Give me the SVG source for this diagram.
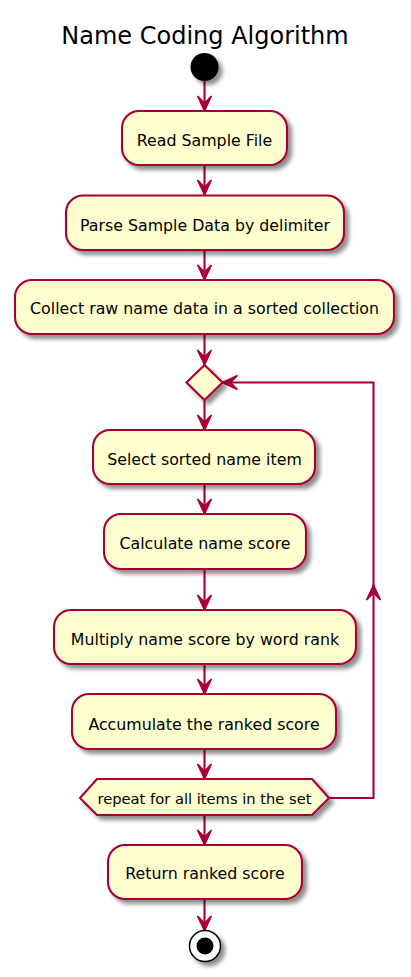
<svg xmlns="http://www.w3.org/2000/svg" width="411" height="977" viewBox="0 0 411 977">
<defs>
<filter id="sh" x="-20%" y="-20%" width="150%" height="160%">
<feGaussianBlur in="SourceAlpha" stdDeviation="2" result="b"/>
<feOffset in="b" dx="4" dy="4" result="o"/>
<feComponentTransfer in="o" result="s"><feFuncA type="linear" slope="0.45"/></feComponentTransfer>
<feMerge><feMergeNode in="s"/><feMergeNode in="SourceGraphic"/></feMerge>
</filter>
<marker id="ah" markerUnits="userSpaceOnUse" viewBox="-17 -9 19 18" markerWidth="19" markerHeight="18" refX="0" refY="0" orient="auto">
<path d="M0,0 L-15,-7 L-8,0 L-15,7 Z" fill="#A80036" stroke="#A80036" stroke-width="1.5" stroke-linejoin="miter"/>
</marker>
</defs>
<style>
.box{fill:#FEFECE;stroke:#A80036;stroke-width:2.1;filter:url(#sh)}
.t{font-family:"DejaVu Sans","Liberation Sans",sans-serif;font-size:15.8px;fill:#000;text-anchor:middle}
.ht{font-family:"DejaVu Sans","Liberation Sans",sans-serif;font-size:14.7px;fill:#000;text-anchor:middle}
.ln{fill:none;stroke:#A80036;stroke-width:2.1;marker-end:url(#ah)}
</style>
<rect width="411" height="977" fill="#FFFFFF"/>
<text x="205" y="44" style="font-family:'DejaVu Sans','Liberation Sans',sans-serif;font-size:24px;text-anchor:middle">Name Coding Algorithm</text>

<g id="connectors">
<path class="ln" d="M204.5,81 L204.5,111"/>
<path class="ln" d="M204.5,165 L204.5,195"/>
<path class="ln" d="M204.5,250 L204.5,280"/>
<path class="ln" d="M204.5,334 L204.5,365"/>
<path class="ln" d="M204.5,400 L204.5,430"/>
<path class="ln" d="M204.5,484 L204.5,514"/>
<path class="ln" d="M204.5,569 L204.5,610"/>
<path class="ln" d="M204.5,664 L204.5,694"/>
<path class="ln" d="M204.5,749 L204.5,779"/>
<path class="ln" d="M204.5,815 L204.5,845"/>
<path class="ln" d="M204.5,899 L204.5,931"/>
<path class="ln" d="M329,798 L373.5,798 L373.5,585"/>
<path class="ln" d="M373.5,586 L373.5,382.5 L222.5,382.5"/>
</g>

<g id="start"><circle cx="204.5" cy="67" r="14" fill="#000" filter="url(#sh)"/></g>

<g id="read"><rect class="box" x="122" y="111" width="165" height="54" rx="17" ry="17"/><text class="t" x="204.5" y="145.5">Read Sample File</text></g>
<g id="parse"><rect class="box" x="66" y="195.5" width="278" height="54.5" rx="17" ry="17"/><text class="t" x="205" y="230.5">Parse Sample Data by delimiter</text></g>
<g id="collect"><rect class="box" x="15" y="280" width="379" height="54" rx="17" ry="17"/><text class="t" x="204.5" y="314">Collect raw name data in a sorted collection</text></g>
<g id="loopstart"><polygon class="box" points="204.5,365 222.5,382.5 204.5,400 186.5,382.5"/></g>
<g id="select"><rect class="box" x="93" y="430" width="222" height="54" rx="17" ry="17"/><text class="t" x="204.5" y="465">Select sorted name item</text></g>
<g id="calc"><rect class="box" x="104" y="514" width="202" height="55" rx="17" ry="17"/><text class="t" x="205" y="549">Calculate name score</text></g>
<g id="multiply"><rect class="box" x="54" y="610" width="302" height="54" rx="17" ry="17"/><text class="t" x="205" y="645">Multiply name score by word rank</text></g>
<g id="accumulate"><rect class="box" x="72" y="694" width="264" height="55" rx="17" ry="17"/><text class="t" x="204" y="729.5">Accumulate the ranked score</text></g>
<g id="repeat"><polygon class="box" points="80,798 97,779 312,779 329,798 312,815 97,815"/><text class="ht" x="204.5" y="803.5">repeat for all items in the set</text></g>
<g id="return"><rect class="box" x="108" y="845" width="194" height="54" rx="17" ry="17"/><text class="t" x="205" y="879">Return ranked score</text></g>
<g id="end"><g filter="url(#sh)"><circle cx="205" cy="946" r="15.5" fill="#FFFFFF" stroke="#000" stroke-width="1.5"/><circle cx="205" cy="946" r="8.5" fill="#000"/></g></g>
</svg>
